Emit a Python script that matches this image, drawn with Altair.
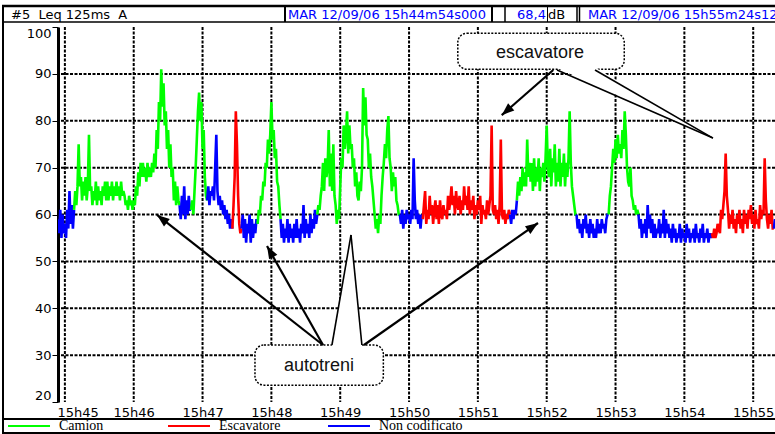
import json
import math
import altair as alt
import pandas as pd

# ---------------- data: Leq 125 ms A (dB), one reading per second ----------------
# time = seconds after 15h44m00s
STEP = 1
seg01_noncod = [59, 56, 61, 55, 60, 56, 58, 55, 61, 57, 65, 58, 62, 57]
seg02_camion = [61, 65, 62, 66, 75, 66, 68, 63, 67, 64, 68, 63, 66, 77, 65,
                66, 62, 65, 63, 67, 62, 66, 63, 65, 62, 66, 64, 67, 63,
                67, 63, 66, 64, 67, 63, 66, 64, 67, 64, 66, 63, 67, 64, 65,
                64, 62, 63, 61, 64, 62, 63, 61, 63, 62,
                66, 64, 69, 66, 71, 68, 71, 68, 70, 67, 71, 68, 70, 68, 71, 69,
                73, 70, 78, 74, 84, 80, 91, 83, 88, 79, 82, 74, 78, 70, 75, 68,
                70, 63, 67, 62, 66, 63]
seg03_noncod = [62, 59, 64, 60, 66, 59, 63, 60, 64, 61]
seg04_camion = [61, 63, 60, 65, 70, 76, 82, 86, 80, 84, 74, 78, 68, 64]
seg05_noncod = [63, 66, 62, 65, 64, 66, 63, 70, 77, 65, 62, 64, 61, 63, 60, 62, 59, 61,
                58, 60, 57, 59]
seg06_escav = [57, 62, 68, 82, 75, 64, 58, 56]
seg07_noncod = [57, 60, 55, 59, 54, 58, 56, 60, 54, 59, 55, 58, 56, 59]
seg08_camion = [58, 61, 60, 64, 63, 67, 66, 71, 70, 76, 73, 77, 84, 76, 78, 72, 74, 67,
                66, 62]
seg09_noncod = [59, 55, 58, 54, 57, 55, 59, 54, 58, 55, 57, 54, 58, 55, 59, 55, 57, 54,
                58, 56, 62, 55, 59, 56, 58, 55, 60, 56, 59, 57, 61, 58]
seg10_camion = [60, 62, 61, 64, 66, 71, 65, 72, 68, 70, 78, 66, 73, 65, 75, 64,
                62, 58, 61, 59, 66, 72, 70, 79, 74, 77, 82, 73, 79, 74,
                75, 70, 72, 66, 69, 64, 63, 67, 65, 70, 87, 79, 85, 77,
                76, 70, 73, 68, 66, 63, 60, 57, 59, 56, 60, 58,
                64, 68, 71, 75, 72, 78, 81, 72, 70, 65, 69, 66, 68, 63, 62, 60]
seg11_noncod = [60, 58, 61, 57, 60, 58, 61, 59, 60, 58, 61, 59, 72, 63, 59, 61, 58, 60,
                57, 60]
seg12_escav = [59, 62, 65, 58, 61, 59, 64, 60, 62, 58, 61, 63, 59, 62, 58, 63, 60, 59, 62, 60,
               61, 59, 64, 61, 63, 66, 62, 64, 60, 65, 62, 61, 64, 60, 63, 61, 66, 62, 64, 61,
               66, 60, 63, 61, 64, 59, 62, 60, 63, 61, 64, 58, 62, 60, 61, 59, 63, 60, 62, 64,
               79, 61, 60, 62, 59, 61, 58, 62, 76, 60, 59, 61, 58, 60, 59, 61]
seg13_noncod = [60, 58, 61, 59, 61, 60]
seg14_camion = [63, 67, 64, 68, 65, 70, 66, 69, 66, 76, 68, 71,
                67, 71, 65, 72, 66, 70, 67, 72, 65, 70, 68, 71, 67, 72,
                79, 70, 68, 74, 66, 72, 69, 75, 66, 71,
                67, 74, 66, 71, 68, 73, 66, 71, 68, 72, 82, 71, 66, 64, 62, 60]
seg15_noncod = [60, 57, 59, 56, 58, 55, 59, 57, 60, 56, 58, 55, 59, 56, 58, 55, 57, 55,
                59, 56, 58, 56, 59, 57, 58, 56, 59, 60]
seg16_camion = [60, 64, 66, 70, 74, 71, 76, 72, 77, 73, 75, 72, 78, 74, 82, 77, 70, 67,
                66, 70, 64, 63, 61, 62, 60, 61]
seg17_noncod = [60, 57, 59, 55, 58, 56, 59, 55, 62, 57, 60, 56, 59, 55, 58, 55,
                57, 56, 59, 55, 58, 56, 61, 55, 59, 56, 58, 55, 57, 54, 58, 55,
                57, 54, 56, 55, 58, 54, 57, 55, 56, 54, 58, 55, 57, 54, 56, 55,
                57, 54, 58, 55, 56, 54, 57, 55, 58, 54, 56, 55, 57, 54, 56, 55]
seg18_escav = [56, 55, 57, 55, 56, 58, 57, 56, 61, 59, 62, 65, 73, 64,
               61, 57, 60, 58, 61, 57, 59, 56, 60, 58, 61, 57, 59, 56, 61, 58, 60, 57, 61, 59,
               62, 58, 60, 57, 61, 58, 59, 57, 62, 59, 61, 60, 72, 63, 59, 57, 60, 58, 61, 57]
seg19_noncod = [57, 59, 58, 60, 58, 59, 58]

segments = [
    ("Non codificato", 54, seg01_noncod), ("Camion", 68, seg02_camion),
    ("Non codificato", 160, seg03_noncod), ("Camion", 170, seg04_camion),
    ("Non codificato", 184, seg05_noncod), ("Escavatore", 206, seg06_escav),
    ("Non codificato", 214, seg07_noncod), ("Camion", 228, seg08_camion),
    ("Non codificato", 248, seg09_noncod), ("Camion", 280, seg10_camion),
    ("Non codificato", 352, seg11_noncod), ("Escavatore", 372, seg12_escav),
    ("Non codificato", 448, seg13_noncod), ("Camion", 454, seg14_camion),
    ("Non codificato", 506, seg15_noncod), ("Camion", 534, seg16_camion),
    ("Non codificato", 560, seg17_noncod), ("Escavatore", 624, seg18_escav),
    ("Non codificato", 678, seg19_noncod),
]

categories = ["Camion", "Escavatore", "Non codificato"]
cat_colors = ["#00FF00", "#FF0000", "#0000FF"]

tick_secs = [60, 120, 180, 240, 300, 360, 420, 480, 540, 600, 660]
tick_labels = ["15h45", "15h46", "15h47", "15h48", "15h49", "15h50",
               "15h51", "15h52", "15h53", "15h54", "15h55"]
y_ticks = [20, 30, 40, 50, 60, 70, 80, 90, 100]
grid_db = [30, 40, 50, 60, 70, 80, 90]

# callouts (in time / dB units)
boxes = pd.DataFrame({
    "label": ["escavatore", "autotreni"],
    "t1": [402.5, 225.7], "t2": [547.6, 337.6],
    "v1": [91.0, 23.6], "v2": [98.65, 32.16],
    "tc": [474.2, 281.5], "vc": [94.4, 27.6],
})
wedges = pd.DataFrame({
    "w": ["esc", "esc", "aut", "aut"],
    "v": [91.3, 76.3, 31.7, 55.63],
    "tl": [488.5, 624.9, 292.5, 309.4],
    "tr": [522.6, 624.9, 319.2, 309.4],
})
edges = pd.DataFrame({
    "t1": [489.0, 522.1, 292.8, 318.9],
    "v1": [90.83, 90.83, 32.16, 32.16],
    "t2": [624.9, 624.9, 309.4, 309.4],
    "v2": [76.3, 76.3, 55.63, 55.63],
})
arrows = pd.DataFrame({
    "t1": [485.7, 285.0, 285.0, 320.7],
    "v1": [90.83, 32.16, 32.16, 32.16],
    "t2": [440.8, 140.3, 236.2, 472.4],
    "v2": [81.2, 59.9, 53.28, 58.19],
})

# ---------------- build ----------------
W, H = 717, 375
X0, X1 = 54, 679
OX, OY = 58, 27
SX = W / (X1 - X0)
SY = H / 80.0
NB = "\u00a0"

rows = []
for i, (cat, start, vals) in enumerate(segments):
    for k, v in enumerate(vals):
        rows.append({"t": start + STEP * k, "v": v, "cat": cat, "seg": i})
    if i + 1 < len(segments):
        ncat, nstart, nvals = segments[i + 1]
        rows.append({"t": nstart, "v": nvals[0], "cat": cat, "seg": i})
df = pd.DataFrame(rows)

arrows["ang"] = [
    math.degrees(math.atan2((r.t2 - r.t1) * SX, (r.v2 - r.v1) * SY)) % 360
    for r in arrows.itertuples()
]

xs = alt.Scale(domain=[X0, X1], nice=False, zero=False)
ys = alt.Scale(domain=[20, 100], nice=False, zero=False)

label_expr = json.dumps(tick_labels) + "[round(datum.value / 60) - 1]"
XAXIS = alt.Axis(values=tick_secs, labelExpr=label_expr, grid=False, ticks=False, domain=False,
                 labelFont="DejaVu Sans", labelFontSize=13, labelColor="black", labelPadding=4,
                 labelFlush=10, labelFlushOffset=8, labelAngle=0, title=None)
YAXIS = alt.Axis(values=y_ticks, grid=False, tickSize=6, tickColor="black", tickWidth=1,
                 domainColor="black", domainWidth=3, labelFont="DejaVu Sans", labelFontSize=13,
                 labelColor="black", labelPadding=1, labelFlush=True, title=None)


def X(field):
    return alt.X(field, scale=xs, axis=XAXIS)


def Y(field):
    return alt.Y(field, scale=ys, axis=YAXIS)


GRID = dict(color="black", strokeWidth=2, strokeDash=[3, 1.5])
hgrid = alt.Chart(pd.DataFrame({"v": grid_db})).mark_rule(**GRID).encode(y=Y("v:Q"))
vgrid = alt.Chart(pd.DataFrame({"t": tick_secs})).mark_rule(**GRID).encode(x=X("t:Q"))

lines = alt.Chart(df).mark_line(strokeWidth=2.6, clip=True).encode(
    x=X("t:Q"),
    y=Y("v:Q"),
    color=alt.Color("cat:N", scale=alt.Scale(domain=categories, range=cat_colors),
                    legend=alt.Legend(
                        title=None, orient="none", legendX=-51, legendY=377,
                        direction="horizontal", columns=3, gridAlign="all",
                        symbolType="stroke", symbolSize=1764, symbolStrokeWidth=2,
                        labelFont="Liberation Serif", labelFontSize=14, labelColor="black",
                        labelOffset=8, columnPadding=21, padding=0, labelLimit=300)),
    detail="seg:N",
    order="t:Q",
)

box_layer = alt.Chart(boxes).mark_rect(
    fill="white", stroke="black", strokeWidth=1.5, strokeDash=[2, 1.5], cornerRadius=9
).encode(x=X("t1:Q"), x2="t2:Q", y=Y("v1:Q"), y2="v2:Q")

wedge_fill = alt.Chart(wedges).mark_area(orient="horizontal", color="white", opacity=1).encode(
    y=Y("v:Q"), x=X("tl:Q"), x2="tr:Q", detail="w:N")

edge_layer = alt.Chart(edges).mark_rule(color="black", strokeWidth=1.6).encode(
    x=X("t1:Q"), x2="t2:Q", y=Y("v1:Q"), y2="v2:Q")

arrow_layer = alt.Chart(arrows).mark_rule(color="black", strokeWidth=2.2).encode(
    x=X("t1:Q"), x2="t2:Q", y=Y("v1:Q"), y2="v2:Q")

heads = alt.Chart(arrows).mark_point(
    shape="M0,0L-0.45,1.2L0.45,1.2Z", filled=True, color="black", opacity=1, size=440
).encode(x=X("t2:Q"), y=Y("v2:Q"), angle=alt.Angle("ang:Q", scale=None))

box_text = alt.Chart(boxes).mark_text(
    font="Liberation Sans", fontSize=18, color="#111111", baseline="middle", align="center"
).encode(x=X("tc:Q"), y=Y("vc:Q"), text="label:N")

# ---------------- frame & header ----------------
one = pd.DataFrame({"k": [0]})


def hline(x1, x2, y, w):
    return alt.Chart(one).mark_rule(color="black", strokeWidth=w).encode(
        x=alt.value(x1 - OX), x2=alt.value(x2 - OX), y=alt.value(y - OY))


def vline(x, y1, y2, w):
    return alt.Chart(one).mark_rule(color="black", strokeWidth=w).encode(
        x=alt.value(x - OX), y=alt.value(y1 - OY), y2=alt.value(y2 - OY))


def label(txt, x, y, color, align="left", size=13, font="DejaVu Sans"):
    return alt.Chart(one).mark_text(
        align=align, baseline="middle", font=font, fontSize=size, color=color
    ).encode(x=alt.value(x - OX), y=alt.value(y - OY), text=alt.value(txt))


frame = [
    hline(2, 800, 6, 2.5), hline(2, 800, 22, 1.5), hline(2, 800, 419, 2),
    hline(2, 800, 433, 2), vline(3, 6, 433, 2),
    vline(285, 6, 22, 2), vline(492, 6, 22, 2), vline(505, 6, 22, 1.5),
    vline(547.5, 6, 22, 1), vline(577, 6, 22, 1.5), vline(579.5, 6, 22, 1.5),
    label(f"#5{NB}{NB}Leq 125ms{NB}{NB}A", 11, 15, "black"),
    label("MAR 12/09/06 15h44m54s000", 288, 15, "#0000FF"),
    label("68,4", 546, 15, "#0000FF", align="right"),
    label("dB", 548, 15, "black"),
    label("MAR 12/09/06 15h55m24s125", 588, 15, "#0000FF"),
]

chart = alt.layer(
    hgrid, vgrid, lines, box_layer, wedge_fill, edge_layer, arrow_layer, heads, box_text,
    *frame
).properties(
    width=W, height=H,
    padding={"left": OX, "top": OY, "right": 0, "bottom": 434 - OY - H},
    autosize=alt.AutoSizeParams(type="none"),
    background="white",
).configure_view(stroke=None)

chart.save("out.html", embed_options={"renderer": "svg", "actions": False})
